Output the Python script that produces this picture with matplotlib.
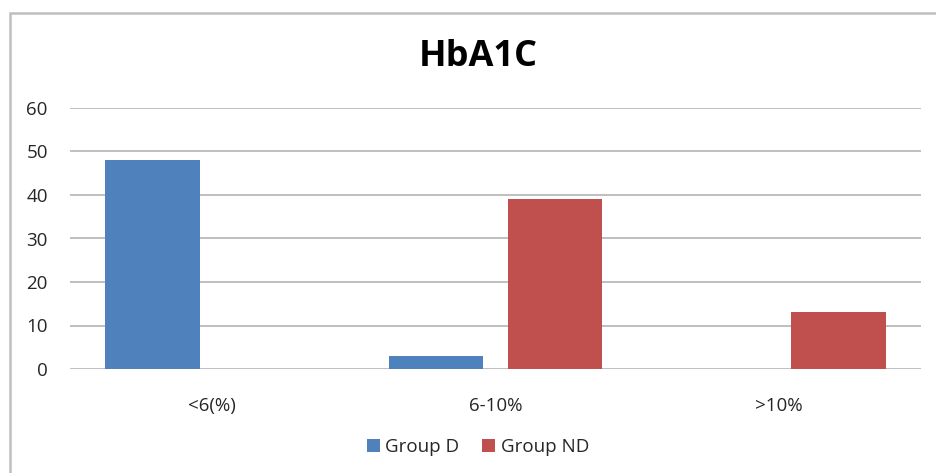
import matplotlib
matplotlib.use("Agg")
import matplotlib.pyplot as plt
import numpy as np
from matplotlib.patches import Rectangle

categories = ["<6(%)", "6-10%", ">10%"]
group_d = [48, 3, 0]
group_nd = [0, 39, 13]
series_names = ["Group D", "Group ND"]
y_ticks = [0, 10, 20, 30, 40, 50, 60]

plt.rcParams["font.family"] = ["Open Sans", "DejaVu Sans"]

W, H = 936, 473
fig = plt.figure(figsize=(W / 100, H / 100), dpi=100)
fig.patch.set_facecolor("white")

# outer chart frame, running off the right and bottom edges
fig.patches.append(Rectangle((9.5 / W, -0.2), 1.2, 1.2 - 12.5 / H, transform=fig.transFigure,
                             fill=False, edgecolor="#BFBFBF", linewidth=1.8, zorder=0))

ax = fig.add_axes([70 / W, (H - 369) / H, (921 - 70) / W, (369 - 108) / H])
x = np.arange(len(categories))
bw = 0.334
gap = 0.085
blue = "#4F81BD"
red = "#C0504D"
ax.bar(x - (bw + gap) / 2, group_d, width=bw, color=blue, label=series_names[0], zorder=3)
ax.bar(x + (bw + gap) / 2, group_nd, width=bw, color=red, label=series_names[1], zorder=3)

ax.set_xlim(-0.5, len(categories) - 0.5)
ax.set_ylim(0, 60)
ax.set_yticks(y_ticks)
ax.set_xticks(x)
ax.set_xticklabels(categories)
ax.yaxis.grid(True, color="#BFBFBF", linewidth=1.4, zorder=0)
ax.set_axisbelow(True)
for s in ax.spines.values():
    s.set_visible(False)
ax.tick_params(axis="both", length=0, labelsize=13.5, colors="#262626")
ax.tick_params(axis="y", pad=16)
ax.tick_params(axis="x", pad=20)

fig.text(478 / W, 1 - 57 / H, "HbA1C", ha="center", va="center",
         fontsize=26, fontweight="bold", color="black")

leg = fig.legend(loc="center", bbox_to_anchor=(478 / W, 1 - 447 / H), ncol=2,
                 frameon=False, fontsize=13.5, handlelength=0.7, handleheight=0.7,
                 handletextpad=0.3, columnspacing=1.2)
for t in leg.get_texts():
    t.set_color("#262626")

fig.savefig("out.png", dpi=100, facecolor="white")
